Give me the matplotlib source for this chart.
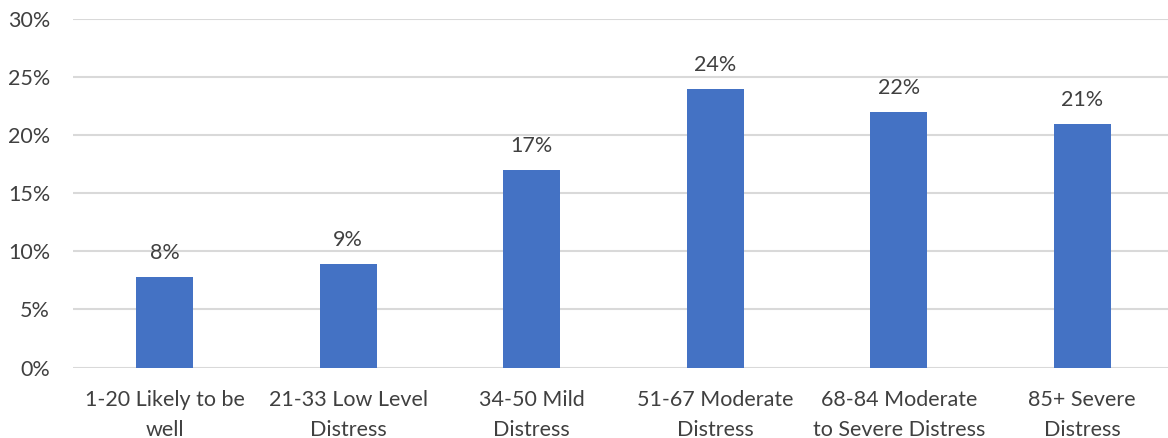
import matplotlib
matplotlib.use("Agg")
import matplotlib.pyplot as plt
from matplotlib.ticker import FuncFormatter, MultipleLocator

categories = ["1-20 Likely to be\nwell", "21-33 Low Level\nDistress", "34-50 Mild\nDistress",
              "51-67 Moderate\nDistress", "68-84 Moderate\nto Severe Distress", "85+ Severe\nDistress"]
values = [7.8, 8.9, 17.0, 24.0, 22.0, 21.0]
labels = ["8%", "9%", "17%", "24%", "22%", "21%"]

plt.rcParams['font.family'] = ['Lato', 'DejaVu Sans']
text_color = "#404040"
fs = 15.5

fig = plt.figure(figsize=(11.68, 4.38), dpi=100)
ax = fig.add_axes([73/1168, 70.5/438, 1101/1168, 348.5/438])

x = list(range(len(categories)))
bars = ax.bar(x, values, width=0.313, color="#4472C4", zorder=3)
for xi, v, lab in zip(x, values, labels):
    ax.annotate(lab, (xi, v), xytext=(0, 10), textcoords="offset points",
                ha="center", va="bottom", fontsize=fs, color=text_color)

ax.set_xlim(-0.5, len(categories) - 0.5)
ax.set_ylim(0, 30)
ax.yaxis.set_major_locator(MultipleLocator(5))
ax.yaxis.set_major_formatter(FuncFormatter(lambda v, p: f"{int(v)}%"))
ax.set_xticks(x)
ax.set_xticklabels(categories, fontsize=fs, color=text_color, linespacing=1.66)
ax.tick_params(axis='y', labelsize=fs, labelcolor=text_color, length=0, pad=16.5)
ax.tick_params(axis='x', length=0, pad=16)
ax.grid(axis='y', color="#D9D9D9", linewidth=1.5, zorder=0)
for s in ax.spines.values():
    s.set_visible(False)

fig.savefig("out.png", dpi=100)
